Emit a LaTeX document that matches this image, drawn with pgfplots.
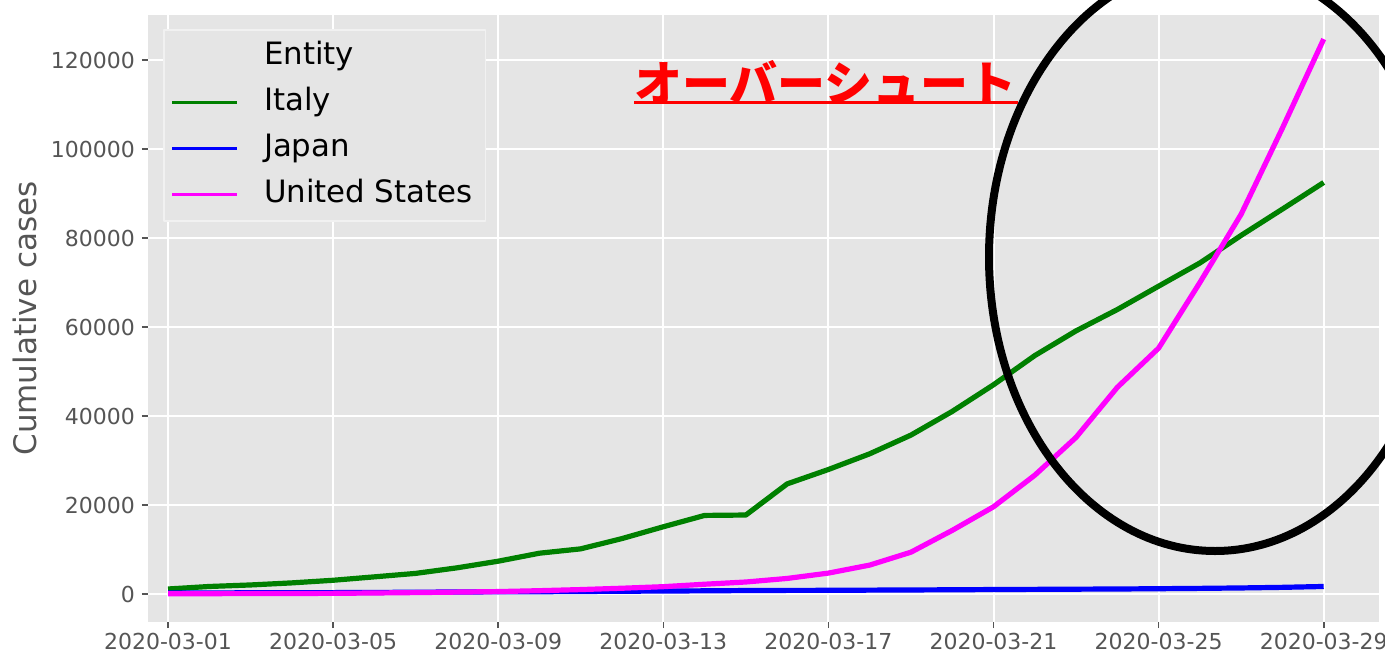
\documentclass[border=0pt]{standalone}
\usepackage{pgfplots}
\pgfplotsset{compat=1.18}
\usepackage{fontspec}
\setmainfont{DejaVu Sans}
\newfontfamily\cjk{Noto Sans CJK JP}
\definecolor{bggray}{HTML}{E5E5E5}
\definecolor{tickgray}{HTML}{555555}
\definecolor{mplgreen}{HTML}{008000}
\definecolor{mplblue}{HTML}{0000FF}
\definecolor{mplmagenta}{HTML}{FF00FF}
\begin{document}
\begin{tikzpicture}
\begin{axis}[
  at={(0,0)}, anchor=south west,
  scale only axis, width=615.5pt, height=303.5pt,
  xmin=0.515, xmax=30.34, ymin=-6290, ymax=130110,
  axis background/.style={fill=bggray},
  axis line style={draw=none},
  grid=major, major grid style={white, line width=1pt},
  xtick={1,5,...,29},
  xticklabels={2020-03-01,2020-03-05,2020-03-09,2020-03-13,2020-03-17,2020-03-21,2020-03-25,2020-03-29},
  ytick={0,20000,...,120000},
  scaled y ticks=false,
  /pgf/number format/assume math mode=true,
  yticklabel style={/pgf/number format/.cd, fixed, 1000 sep={}},
  xticklabel style={yshift=1pt},
  tick label style={font=\fontsize{11}{13}\selectfont, text=tickgray},
  tick align=outside, tick pos=left,
  major tick length=3pt,
  tick style={tickgray, line width=0.8pt},
  ylabel={Cumulative cases},
  ylabel style={font=\fontsize{15.5}{18}\selectfont, text=tickgray, at={(axis description cs:-0.0999,0.5)}, anchor=center},
  legend cell align=left,
  legend image code/.code={\draw[#1, line width=1.6pt] (0pt,0pt) -- (32.5pt,0pt);},
  legend style={at={(rel axis cs:0.0122,0.977)}, anchor=north west,
    fill=bggray, draw=white!45!bggray, line width=0.8pt,
    font=\fontsize{15.4}{18}\selectfont,
    inner xsep=3.5pt, inner ysep=4pt, row sep=4.5pt,
    nodes={text height=11.5pt, text depth=3pt, inner ysep=2pt, inner xsep=3pt},
    /tikz/every odd column/.append style={column sep=9.5pt}},
  line join=round,
]
\addlegendimage{empty legend}
\addlegendentry{Entity}
\addplot[mplgreen, line width=2.6pt] coordinates {
(1,1128) (2,1694) (3,2036) (4,2502) (5,3089) (6,3858) (7,4636) (8,5883) (9,7375) (10,9172)
(11,10149) (12,12462) (13,15113) (14,17660) (15,17750) (16,24747) (17,27980) (18,31506) (19,35713) (20,41035)
(21,47021) (22,53578) (23,59138) (24,63927) (25,69176) (26,74386) (27,80589) (28,86498) (29,92472)};
\addlegendentry{Italy}
\addplot[mplblue, line width=2.6pt] coordinates {
(1,239) (2,254) (3,268) (4,284) (5,317) (6,349) (7,408) (8,455) (9,488) (10,514)
(11,568) (12,619) (13,675) (14,716) (15,780) (16,814) (17,829) (18,873) (19,914) (20,950)
(21,1007) (22,1046) (23,1089) (24,1128) (25,1193) (26,1268) (27,1364) (28,1499) (29,1693)};
\addlegendentry{Japan}
\addplot[mplmagenta, line width=2.6pt] coordinates {
(1,70) (2,75) (3,100) (4,120) (5,150) (6,230) (7,320) (8,430) (9,550) (10,750)
(11,1000) (12,1300) (13,1650) (14,2200) (15,2700) (16,3500) (17,4700) (18,6500) (19,9400) (20,14300)
(21,19600) (22,26700) (23,35200) (24,46450) (25,55250) (26,70000) (27,85350) (28,104700) (29,124700)};
\addlegendentry{United States}
\end{axis}
\draw[black, line width=4pt] (533.5pt,182.5pt) ellipse [x radius=113pt, y radius=147pt];
\node[anchor=base west, inner sep=0pt, text=red, font=\cjk\bfseries\fontsize{24}{24}\selectfont] at (243pt,260.5pt) {オーバーシュート};
\draw[red, line width=1.5pt] (243pt,259.6pt) -- (435pt,259.6pt);
\pgfresetboundingbox
\useasboundingbox (-74pt,-14pt) rectangle (618.5pt,311pt);
\end{tikzpicture}
\end{document}
